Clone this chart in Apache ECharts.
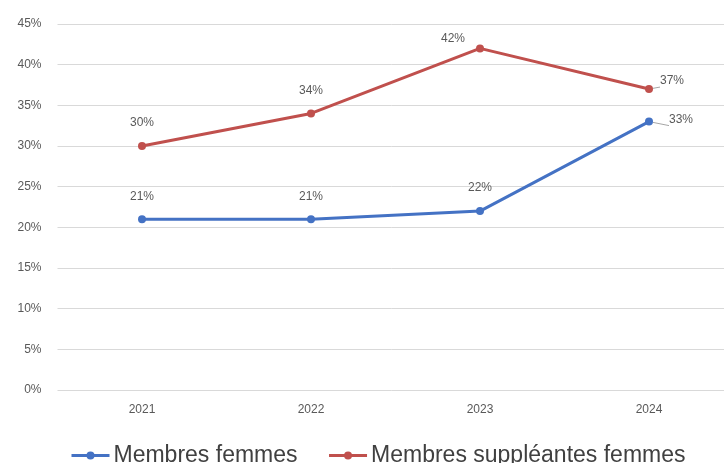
<!DOCTYPE html>
<html><head><meta charset="utf-8">
<script src="https://cdn.jsdelivr.net/npm/echarts@6/dist/echarts.min.js"></script>
<style>html,body{margin:0;padding:0;background:#fff}#c{width:724px;height:463px}</style>
</head><body><div id="c"></div>
<script>
const categories = ['2021','2022','2023','2024'];
const membresFemmes = [21, 21, 22, 33];
const suppleantesFemmes = [30, 34, 42, 37];
const yTicks = [0,5,10,15,20,25,30,35,40,45];

const chart = echarts.init(document.getElementById('c'));
const lblBase = {show:true, position:'top', distance:13, color:'#595959', fontSize:12, fontFamily:'Liberation Sans', formatter: p => p.value + '%'};
const guide = {show:true, lineStyle:{color:'#a6a6a6', width:1}};
chart.setOption({
  animation:false,
  grid:{left:57.5, width:676, top:24, bottom:73, containLabel:false, outerBoundsMode:'none'},
  legend:{
    data:['Membres femmes','Membres suppléantes femmes'],
    bottom:-4, left:70, padding:0, itemWidth:38, itemHeight:10, itemGap:30,
    lineStyle:{width:3},
    textStyle:{fontSize:23, color:'#404040', fontFamily:'Liberation Sans', padding:[0,0,0,-1]}
  },
  xAxis:{type:'category', data:categories, boundaryGap:true,
    axisLine:{show:false}, axisTick:{show:false},
    axisLabel:{color:'#595959', fontSize:12, margin:14, fontFamily:'Liberation Sans'}},
  yAxis:{type:'value', min:0, max:45, interval:5,
    axisLabel:{formatter: v => v + '%', color:'#595959', fontSize:12, margin:16, fontFamily:'Liberation Sans'},
    splitLine:{lineStyle:{color:'#d9d9d9', width:1}}},
  series:[
    {name:'Membres femmes', type:'line', data:membresFemmes.map((v,i)=> i===3 ? {value:v, label:{position:'right', distance:10, offset:[6,-2]}, labelLine:guide} : v),
     color:'#4472C4', symbol:'circle', symbolSize:8, lineStyle:{width:3},
     label:lblBase},
    {name:'Membres suppléantes femmes', type:'line', data:suppleantesFemmes.map((v,i)=> {
        if(i===2) return {value:v, label:{offset:[-27,13]}};
        if(i===3) return {value:v, label:{position:'right', distance:10, offset:[-3,-8]}, labelLine:guide};
        return v;}),
     color:'#C0504D', symbol:'circle', symbolSize:8, lineStyle:{width:3},
     label:lblBase}
  ]
});
</script></body></html>
